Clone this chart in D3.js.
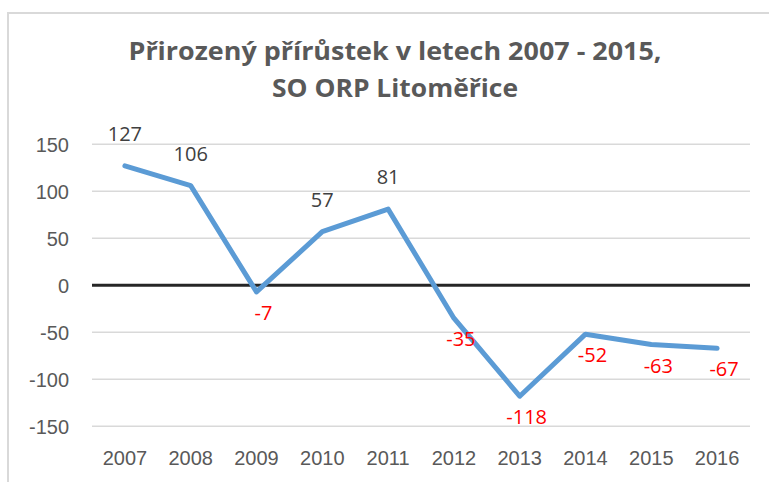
<!DOCTYPE html>
<html>
<head>
<meta charset="utf-8">
<script src="https://cdn.jsdelivr.net/npm/d3@7"></script>
<style>
  html, body { margin: 0; padding: 0; background: #fff; }
  svg { display: block; font-family: 'Open Sans', 'Liberation Sans', sans-serif; }
</style>
</head>
<body>
<svg id="chart" width="769" height="482"></svg>
<script>
const years = ['2007', '2008', '2009', '2010', '2011', '2012', '2013', '2014', '2015', '2016'];
const values = [127, 106, -7, 57, 81, -35, -118, -52, -63, -67];
const yTicks = [-150, -100, -50, 0, 50, 100, 150];
const titleLines = ['Přirozený přírůstek v letech 2007 - 2015,', 'SO ORP Litoměřice'];

const WIDTH = 769;
const HEIGHT = 482;
const LINE_COLOR = '#5B9BD5';
const FONT_SIZE = 20;

const svg = d3.select('#chart');

// chart frame: only left and top edges show in the picture
svg.append('path')
  .attr('d', `M8,${HEIGHT}V13H${WIDTH}`)
  .attr('fill', 'none')
  .attr('stroke', '#d9d9d9')
  .attr('stroke-width', 2);

const x = d3.scaleBand().domain(years).range([92, 750]);
const y = d3.scaleLinear().domain([-150, 150]).range([426.3, 144.3]);
const cx = (d) => x(d) + x.bandwidth() / 2;

// title
svg.append('g')
  .selectAll('text')
  .data(titleLines)
  .join('text')
  .attr('x', 395)
  .attr('y', (d, i) => 59.5 + i * 37.5)
  .attr('text-anchor', 'middle')
  .attr('font-size', 24.5)
  .attr('font-weight', 'bold')
  .attr('fill', '#595959')
  .attr('textLength', (d, i) => (i === 0 ? 533 : 246))
  .attr('lengthAdjust', 'spacingAndGlyphs')
  .text((d) => d);

// gridlines
svg.append('g')
  .selectAll('line')
  .data(yTicks.filter((t) => t !== 0))
  .join('line')
  .attr('x1', 92)
  .attr('x2', 750)
  .attr('y1', (d) => y(d))
  .attr('y2', (d) => y(d))
  .attr('stroke', '#d9d9d9')
  .attr('stroke-width', 1.4);

// y axis labels (plain hyphen for negatives, like the source)
const yAxis = svg.append('g')
  .attr('transform', 'translate(69,0)')
  .call(d3.axisLeft(y).tickValues(yTicks).tickFormat((d) => String(d)).tickSize(0).tickPadding(0));
yAxis.select('.domain').remove();
yAxis.selectAll('text')
  .attr('font-family', null)
  .attr('font-size', FONT_SIZE)
  .attr('fill', '#595959')
  .attr('dy', '0.36em');

// x axis labels
const xAxis = svg.append('g')
  .attr('transform', 'translate(0,465)')
  .call(d3.axisBottom(x).tickSize(0).tickPadding(0));
xAxis.select('.domain').remove();
xAxis.selectAll('text')
  .attr('font-family', null)
  .attr('font-size', FONT_SIZE)
  .attr('fill', '#595959')
  .attr('dy', 0);

// zero line
svg.append('line')
  .attr('x1', 92)
  .attr('x2', 750)
  .attr('y1', y(0))
  .attr('y2', y(0))
  .attr('stroke', '#262626')
  .attr('stroke-width', 3);

// series line
const data = years.map((year, i) => ({ year, value: values[i] }));
svg.append('path')
  .datum(data)
  .attr('fill', 'none')
  .attr('stroke', LINE_COLOR)
  .attr('stroke-width', 5)
  .attr('stroke-linejoin', 'round')
  .attr('stroke-linecap', 'round')
  .attr('d', d3.line().x((d) => cx(d.year)).y((d) => y(d.value)));

// data labels: positives above in dark grey, negatives below in red
svg.append('g')
  .selectAll('text')
  .data(data)
  .join('text')
  .attr('x', (d) => cx(d.year) + (d.value < 0 ? 7 : 0))
  .attr('y', (d) => y(d.value) + (d.value < 0 ? 21 : -32))
  .attr('dy', '0.36em')
  .attr('text-anchor', 'middle')
  .attr('font-size', FONT_SIZE)
  .attr('fill', (d) => (d.value < 0 ? '#ff0000' : '#404040'))
  .text((d) => d.value);
</script>
</body>
</html>
